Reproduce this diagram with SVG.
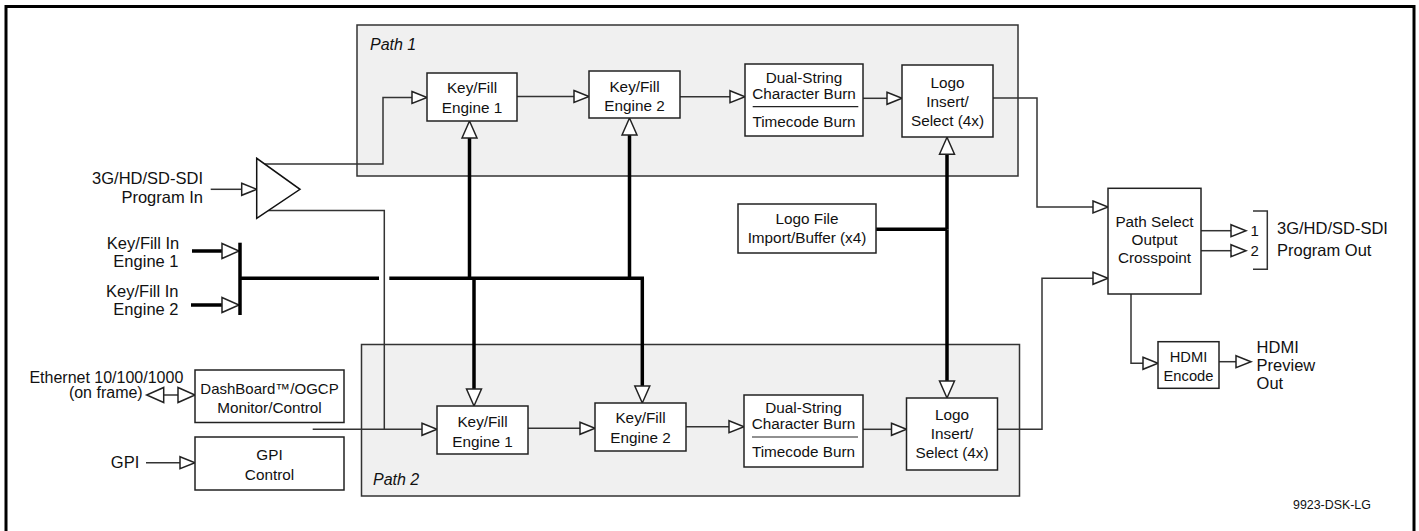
<svg xmlns="http://www.w3.org/2000/svg" width="1419" height="531" viewBox="0 0 1419 531">
<style>
text{font-family:"Liberation Sans",Arial,sans-serif;fill:#111}
.n{font-size:15.3px;text-anchor:middle}
.l{font-size:16.5px}
.e{text-anchor:end}
.it{font-style:italic;font-size:16px}
.box{fill:#fff;stroke:#222;stroke-width:1.5}
.path{fill:#f0f0f0;stroke:#333;stroke-width:1.5}
.t{fill:none;stroke:#333;stroke-width:1.5}
.k{fill:none;stroke:#000;stroke-width:3.5}
.ta{marker-end:url(#a)}
.ka{marker-end:url(#b)}
</style>
<defs>
<marker id="a" markerUnits="userSpaceOnUse" markerWidth="20" markerHeight="16" viewBox="-1 -8 20 16" refX="0" refY="0" orient="auto-start-reverse" overflow="visible"><path d="M0,-6 L15,0 L0,6 Z" fill="#fff" stroke="#222" stroke-width="1.5"/></marker>
<marker id="b" markerUnits="userSpaceOnUse" markerWidth="20" markerHeight="18" viewBox="-1 -9 20 18" refX="0" refY="0" orient="auto-start-reverse" overflow="visible"><path d="M0,-7.5 L17,0 L0,7.5 Z" fill="#fff" stroke="#222" stroke-width="1.5"/></marker>
</defs>
<rect x="6" y="6.5" width="1408" height="600" fill="#fff" stroke="#000" stroke-width="3"/>

<g id="path1"><rect class="path" x="357" y="25" width="661" height="151"/><text class="it" x="370" y="50">Path 1</text></g>
<g id="path2"><rect class="path" x="361.5" y="344.5" width="658" height="151.5"/><text class="it" x="373" y="485">Path 2</text></g>

<g id="connectors">
<path class="t ta" d="M210.7,189.3 H241.7"/>
<path class="t ta" d="M265,164 H383 V97.5 H412"/>
<path class="t" d="M268,210.5 H384.3 V429.3"/>
<path class="t ta" d="M312.7,429.3 H422"/>
<path class="t ta" d="M517,96.5 H574"/>
<path class="t ta" d="M680,96.7 H730"/>
<path class="t ta" d="M863,98.3 H887"/>
<path class="t ta" d="M993,98 H1037 V207 H1093"/>
<path class="t ta" d="M528,428.3 H580"/>
<path class="t ta" d="M686,426.7 H729"/>
<path class="t ta" d="M863,429.3 H891.5"/>
<path class="t ta" d="M997.7,429.3 H1042 V278.3 H1093"/>
<path class="t ta" d="M1201,230.7 H1231"/>
<path class="t ta" d="M1201,250.7 H1231"/>
<path class="t ta" d="M1131,294 V363.3 H1143"/>
<path class="t ta" d="M1219,361.7 H1236"/>
<path class="t" d="M163.7,395 H178" marker-start="url(#b)" marker-end="url(#b)"/>
<path class="t ta" d="M146,462.7 H180"/>
<path class="t" d="M1253,211 H1267.3 V269.3 H1253"/>
<path class="k ka" d="M192,251 H222"/>
<path class="k ka" d="M191,305 H222"/>
<path class="k" d="M240,242.7 V315"/>
<path class="k" d="M240,278.3 H379 M389.3,278.3 H644"/>
<path class="k ka" d="M469.5,278.3 V138"/>
<path class="k ka" d="M629.5,278.3 V135"/>
<path class="k ka" d="M474,278.3 V389"/>
<path class="k ka" d="M642.3,278.3 V386"/>
<path class="k" d="M876,229.3 H947"/>
<path class="k ka" d="M947,229.3 V154.3"/>
<path class="k ka" d="M947,229.3 V381"/>
</g>

<g id="amplifier"><path d="M256.7,158.3 L256.7,218.3 L300,189.3 Z" fill="#fff" stroke="#111" stroke-width="1.5"/></g>

<g id="kf1a"><rect class="box" x="427" y="73" width="90" height="48"/><text class="n" x="472" y="93">Key/Fill</text><text class="n" x="472" y="113">Engine 1</text></g>
<g id="kf2a"><rect class="box" x="589" y="71" width="91" height="47"/><text class="n" x="634.5" y="91.7">Key/Fill</text><text class="n" x="634.5" y="110.5">Engine 2</text></g>
<g id="dual1"><rect class="box" x="745" y="64" width="118" height="72"/><text class="n" x="804" y="83">Dual-String</text><text class="n" x="804" y="98.5">Character Burn</text><line x1="752.7" y1="106.7" x2="858.3" y2="106.7" stroke="#222" stroke-width="1.2"/><text class="n" x="804" y="127">Timecode Burn</text></g>
<g id="logo1"><rect class="box" x="902" y="65" width="91" height="72"/><text class="n" x="947.5" y="88">Logo</text><text class="n" x="947.5" y="107">Insert/</text><text class="n" x="947.5" y="125.5">Select (4x)</text></g>

<g id="kf1b"><rect class="box" x="437" y="406" width="91" height="48"/><text class="n" x="482.5" y="426.7">Key/Fill</text><text class="n" x="482.5" y="446.7">Engine 1</text></g>
<g id="kf2b"><rect class="box" x="595" y="403" width="91" height="48"/><text class="n" x="640.5" y="423">Key/Fill</text><text class="n" x="640.5" y="442.7">Engine 2</text></g>
<g id="dual2"><rect class="box" x="744" y="395" width="119" height="72"/><text class="n" x="803.5" y="413.3">Dual-String</text><text class="n" x="803.5" y="428.8">Character Burn</text><line x1="752" y1="437" x2="858" y2="437" stroke="#222" stroke-width="1.2"/><text class="n" x="803.5" y="457.3">Timecode Burn</text></g>
<g id="logo2"><rect class="box" x="906.5" y="398" width="91" height="72"/><text class="n" x="952" y="420">Logo</text><text class="n" x="952" y="439.3">Insert/</text><text class="n" x="952" y="458.3">Select (4x)</text></g>

<g id="logofile"><rect class="box" x="738" y="204" width="138" height="49"/><text class="n" x="807" y="224">Logo File</text><text class="n" x="807" y="242.7">Import/Buffer (x4)</text></g>
<g id="pathselect"><rect class="box" x="1108" y="188.3" width="93" height="105.7"/><text class="n" x="1154.5" y="227">Path Select</text><text class="n" x="1154.5" y="245">Output</text><text class="n" x="1154.5" y="263.3">Crosspoint</text></g>
<g id="hdmi"><rect class="box" x="1158" y="341.7" width="61" height="46.6"/><text class="n" x="1188.5" y="361.7" style="font-size:14.7px">HDMI</text><text class="n" x="1188.5" y="380.7" style="font-size:14.7px">Encode</text></g>
<g id="dashboard"><rect class="box" x="195" y="370" width="149" height="52.5"/><text class="n" x="269.5" y="394" style="font-size:15px">DashBoard™/OGCP</text><text class="n" x="269.5" y="413.3">Monitor/Control</text></g>
<g id="gpi"><rect class="box" x="195" y="437" width="149" height="53"/><text class="n" x="269.5" y="460">GPI</text><text class="n" x="269.5" y="480">Control</text></g>

<g id="labels">
<text class="l e" x="203" y="183.5">3G/HD/SD-SDI</text>
<text class="l e" x="203" y="202.5">Program In</text>
<text class="l e" x="179.3" y="249.3">Key/Fill In</text>
<text class="l e" x="178.5" y="267.3">Engine 1</text>
<text class="l e" x="178.5" y="297.3">Key/Fill In</text>
<text class="l e" x="178.5" y="315">Engine 2</text>
<text class="e" x="183.3" y="382.7" style="font-size:16px">Ethernet 10/100/1000</text>
<text class="e" x="142.7" y="398.3" style="font-size:16px">(on frame)</text>
<text class="l e" x="139.3" y="468.3">GPI</text>
<text x="1250.5" y="235.5" style="font-size:15px">1</text>
<text x="1250.5" y="256" style="font-size:15px">2</text>
<text class="l" x="1277" y="234">3G/HD/SD-SDI</text>
<text class="l" x="1277" y="256">Program Out</text>
<text class="l" x="1256.6" y="353.3">HDMI</text>
<text class="l" x="1256.6" y="371.3">Preview</text>
<text class="l" x="1256.6" y="388.5">Out</text>
<text x="1293" y="509.3" style="font-size:12.4px">9923-DSK-LG</text>
</g>
</svg>
